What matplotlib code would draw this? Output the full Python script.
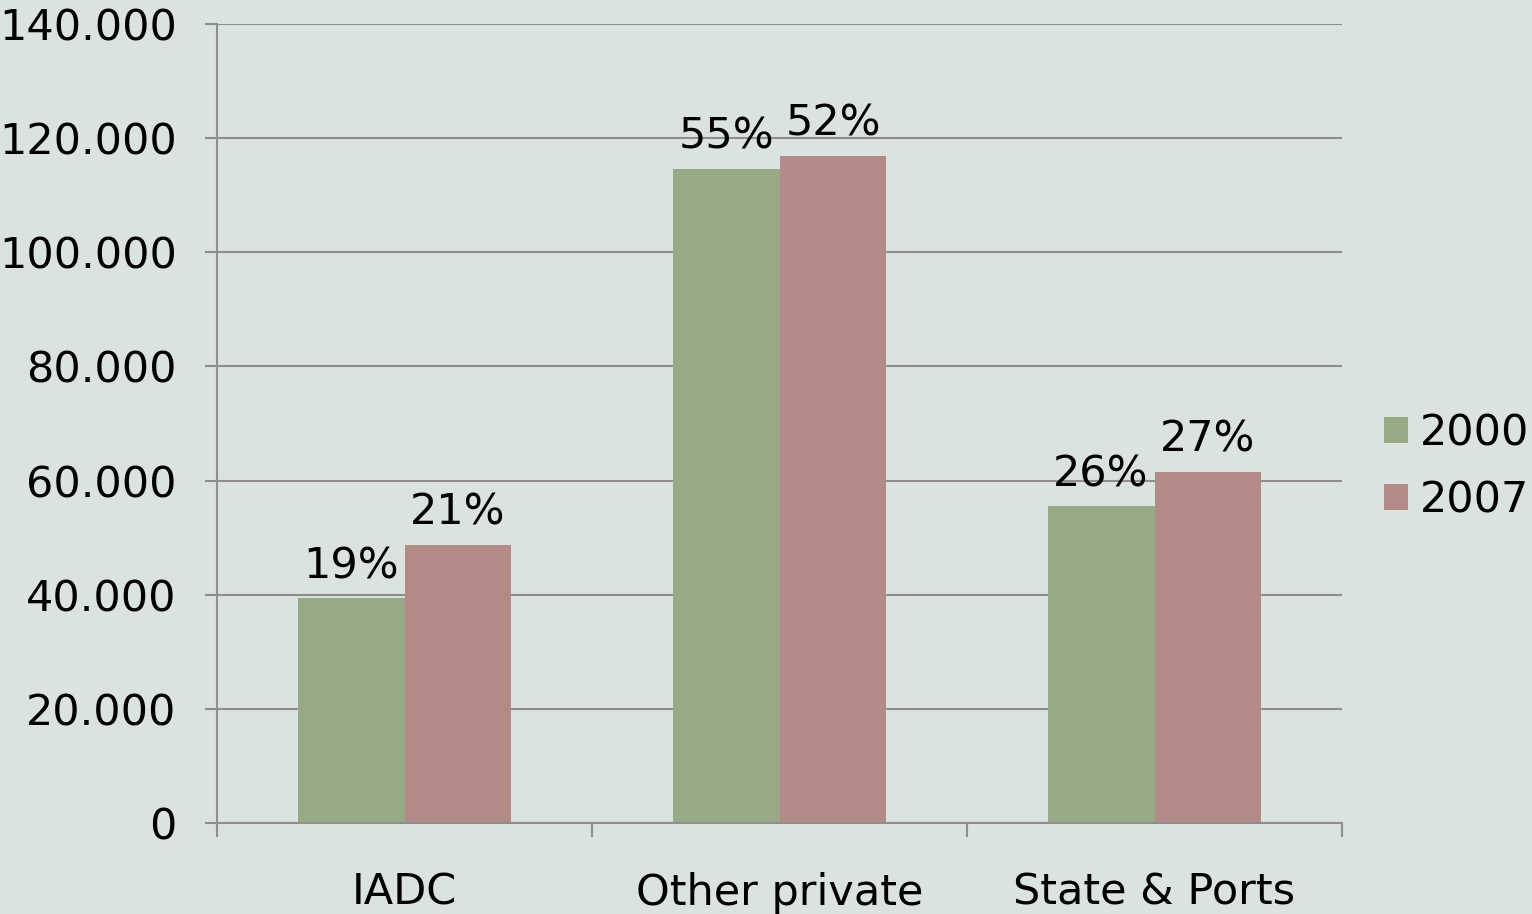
import numpy as np
import matplotlib
matplotlib.use("Agg")
import matplotlib.pyplot as plt
from matplotlib.ticker import FuncFormatter, FixedLocator

categories = ["IADC", "Other private", "State & Ports"]
values_2000 = [39400, 114600, 55500]
values_2007 = [48700, 116900, 61500]
labels_2000 = ["19%", "55%", "26%"]
labels_2007 = ["21%", "52%", "27%"]

bg = "#DAE3DE"
green = "#98A988"
pink = "#B48A87"
gray = "#8E8E8E"

plt.rcParams["font.family"] = ["DejaVu Sans"]
fs = 31

fig = plt.figure(figsize=(15.32, 9.14), dpi=100, facecolor=bg)
ax = fig.add_axes([217/1532, 1-823/914, 1125/1532, 799/914])
ax.set_facecolor(bg)

x = np.arange(len(categories))
w = 0.285
b1 = ax.bar(x - w/2, values_2000, w, color=green, label="2000", zorder=2)
b2 = ax.bar(x + w/2, values_2007, w, color=pink, label="2007", zorder=2)

for bars, labs in [(b1, labels_2000), (b2, labels_2007)]:
    for r, lab in zip(bars, labs):
        ax.annotate(lab, (r.get_x() + r.get_width()/2, r.get_height()),
                    xytext=(0, 8), textcoords="offset points",
                    ha="center", va="bottom", fontsize=fs)

ax.set_xlim(-0.5, 2.5)
ax.set_ylim(0, 140000)
ax.set_yticks(np.arange(0, 140001, 20000))
ax.yaxis.set_major_formatter(FuncFormatter(lambda v, p: f"{int(v):,}".replace(",", ".")))
ax.grid(axis="y", color=gray, linewidth=1.5, zorder=1)
ax.set_axisbelow(True)

ax.set_xticks(x)
ax.set_xticklabels(categories)
ax.xaxis.set_minor_locator(FixedLocator([-0.5, 0.5, 1.5, 2.5]))
ax.tick_params(axis="x", which="major", length=0, pad=35, labelsize=fs)
ax.tick_params(axis="x", which="minor", length=10, width=1.5, color=gray)
ax.tick_params(axis="y", length=9, width=1.5, color=gray, pad=20, labelsize=fs)

for s in ["top", "right"]:
    ax.spines[s].set_visible(False)
for s in ["left", "bottom"]:
    ax.spines[s].set_color(gray)
    ax.spines[s].set_linewidth(1.5)

ax.legend(loc="center left", bbox_to_anchor=(1.0375, 0.446), frameon=False,
          borderaxespad=0, borderpad=0, fontsize=fs, handlelength=0.56,
          handleheight=0.56, handletextpad=0.26, labelspacing=0.58)

fig.savefig("out.png", dpi=100, facecolor=bg)
